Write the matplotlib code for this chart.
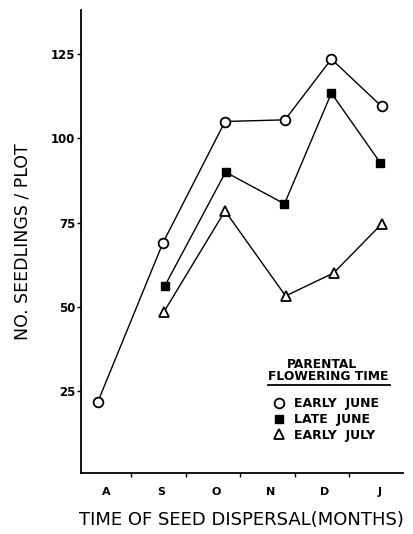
import matplotlib.pyplot as plt
from matplotlib.lines import Line2D

months = ["A", "S", "O", "N", "D", "J"]
# dispersal position inside each month (0 = August)
pos_early_june = [-0.16, 1.03, 2.17, 3.27, 4.12, 5.04]
pos_late_june = [1.07, 2.18, 3.26, 4.12, 5.02]
pos_early_july = [1.05, 2.17, 3.28, 4.16, 5.04]

early_june = [22, 69, 105, 105.5, 123.5, 109.5]
late_june = [56.4, 90, 80.6, 113.4, 92.7]
early_july = [48.6, 78.5, 53.3, 60.1, 74.6]

yticks = [25, 50, 75, 100, 125]

fig = plt.figure(figsize=(4.14, 5.34), dpi=100)
ax = fig.add_axes([0.195, 0.114, 0.778, 0.867])

ax.plot(pos_early_june, early_june, color="black", lw=1.0, marker="o",
        ms=7, mfc="white", mec="black", mew=1.3, label="EARLY  JUNE")
ax.plot(pos_late_june, late_june, color="black", lw=1.0, marker="s",
        ms=5.5, mfc="black", mec="black", label="LATE  JUNE")
ax.plot(pos_early_july, early_july, color="black", lw=1.0, marker="^",
        ms=7, mfc="white", mec="black", mew=1.3, label="EARLY  JULY")

ax.set_xlim(-0.476, 5.43)
ax.set_ylim(0.8, 138)

for side in ["top", "right"]:
    ax.spines[side].set_visible(False)
for side in ["left", "bottom"]:
    ax.spines[side].set_linewidth(1.3)

ax.set_yticks(yticks)
ax.set_yticklabels([str(v) for v in yticks], fontsize=8.5, fontweight="bold")
ax.tick_params(axis="y", length=3, width=1.0, pad=1)

# month labels centred, ticks at month boundaries
ax.set_xticks([i + 0.45 for i in range(5)])
ax.set_xticklabels([])
ax.tick_params(axis="x", length=3, width=1.0)
ax.set_xticks(range(len(months)), minor=True)
ax.set_xticklabels(months, minor=True, fontsize=8, fontweight="bold")
ax.tick_params(axis="x", which="minor", length=0, pad=10)

ax.set_ylabel("NO. SEEDLINGS / PLOT", fontsize=12.5, labelpad=14)
ax.set_xlabel("TIME OF SEED DISPERSAL(MONTHS)", fontsize=13, labelpad=10)

# legend header
fig.text(322 / 414, 1 - 364 / 534, "PARENTAL", fontsize=8.8, ha="center",
         va="center", fontweight="bold")
fig.text(328 / 414, 1 - 377 / 534, "FLOWERING TIME", fontsize=8.8,
         ha="center", va="center", fontweight="bold")
fig.add_artist(Line2D([268 / 414, 390 / 414], [1 - 385 / 534, 1 - 385 / 534],
                      color="black", lw=1.3))

ax.legend(loc="upper left", bbox_to_anchor=(268 / 414, 1 - 391 / 534),
          bbox_transform=fig.transFigure, frameon=False,
          handlelength=0.8, handletextpad=0.8, labelspacing=0.22,
          borderpad=0, prop={"size": 9, "weight": "bold"})
for h in ax.get_legend().legend_handles:
    h.set_linestyle("none")

fig.savefig("out.png", dpi=100)
